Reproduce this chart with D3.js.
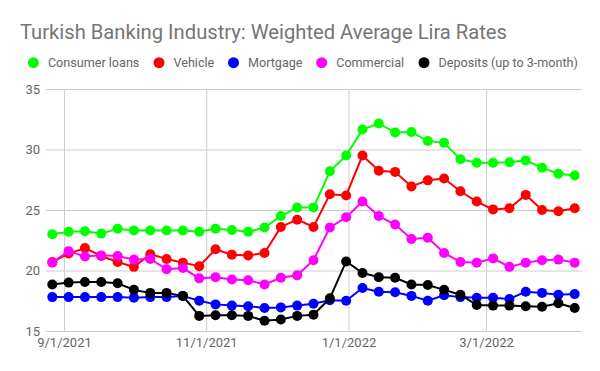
<!DOCTYPE html>
<html>
<head>
<meta charset="utf-8">
<script src="https://cdn.jsdelivr.net/npm/d3@7"></script>
<style>
html,body{margin:0;padding:0;background:#fff;}
svg{display:block;font-family:Roboto,"Noto Sans",sans-serif;}
</style>
</head>
<body>
<svg id="chart" width="600" height="371"></svg>
<script>
const title = "Turkish Banking Industry: Weighted Average Lira Rates";
const startDate = "2021-08-27"; // weekly observations
const seriesNames = ["Consumer loans", "Vehicle", "Mortgage", "Commercial", "Deposits (up to 3-month)"];
const seriesColors = ["#00ff00", "#ff0000", "#0000ff", "#ff00ff", "#000000"];
const consumer = [23.0,23.2,23.25,23.05,23.45,23.3,23.3,23.3,23.3,23.2,23.45,23.35,23.2,23.55,24.5,25.2,25.2,28.2,29.5,31.65,32.15,31.4,31.45,30.7,30.55,29.2,28.9,28.9,28.95,29.1,28.5,28.0,27.85];
const vehicle = [20.7,21.4,21.85,21.2,20.7,20.3,21.35,20.95,20.65,20.35,21.75,21.3,21.25,21.45,23.6,24.2,23.6,26.3,26.2,29.5,28.25,28.15,26.95,27.45,27.6,26.55,25.7,25.05,25.15,26.25,25.0,24.9,25.15];
const mortgage = [17.8,17.8,17.8,17.8,17.8,17.75,17.8,17.8,17.9,17.5,17.2,17.1,17.05,16.9,16.95,17.1,17.25,17.55,17.5,18.55,18.25,18.2,17.9,17.5,17.95,17.8,17.75,17.75,17.65,18.25,18.15,18.0,18.05];
const commercial = [20.65,21.6,21.15,21.25,21.2,20.9,20.95,20.1,20.2,19.35,19.45,19.25,19.2,18.85,19.4,19.6,20.85,23.55,24.4,25.7,24.5,23.8,22.6,22.7,21.45,20.7,20.65,21.0,20.3,20.65,20.85,20.9,20.65];
const deposits = [18.85,19.0,19.05,19.05,18.95,18.4,18.15,18.15,17.9,16.25,16.3,16.3,16.25,15.85,15.95,16.25,16.35,17.7,20.75,19.8,19.45,19.4,18.85,18.8,18.4,18.0,17.15,17.1,17.1,17.05,17.0,17.3,16.9];
const yTicks = [15, 20, 25, 30, 35];
const xTickDates = ["2021-09-01", "2021-11-01", "2022-01-01", "2022-03-01"];
const xTickLabels = ["9/1/2021", "11/1/2021", "1/1/2022", "3/1/2022"];

const allSeries = [consumer, vehicle, mortgage, commercial, deposits];
const t0 = new Date(startDate + "T00:00:00Z");
const dates = consumer.map((_, i) => new Date(t0.getTime() + i * 7 * 86400000));

const svg = d3.select("#chart");
const plotLeft = 46, plotRight = 582;
const x = d3.scaleUtc().domain([dates[0], dates[dates.length - 1]]).range([52.3, 574.7]);
const y = d3.scaleLinear().domain([15, 35]).range([331, 89]);

// title
svg.append("text").attr("x", 20).attr("y", 38.5)
  .attr("font-size", 20.2).attr("fill", "#757575").text(title);

// legend
const legendX = [33.4, 159, 233.5, 321.7, 424];
const lg = svg.append("g");
seriesNames.forEach((n, i) => {
  lg.append("circle").attr("cx", legendX[i]).attr("cy", 62.7).attr("r", 5.5).attr("fill", seriesColors[i]);
  lg.append("text").attr("x", legendX[i] + 14.5).attr("y", 62.7).attr("dy", "0.36em")
    .attr("font-size", 12.6).attr("fill", "#666").text(n);
});

// horizontal grid
const yAxis = d3.axisLeft(y).tickValues(yTicks).tickSize(-(plotRight - plotLeft)).tickPadding(6);
const gy = svg.append("g").attr("transform", `translate(${plotLeft},0)`).call(yAxis);
gy.select(".domain").remove();
gy.selectAll(".tick line").attr("stroke", "#cccccc");
gy.selectAll(".tick text").attr("font-size", 13).attr("fill", "#666").attr("font-family", "Roboto,sans-serif");

// vertical grid + x labels
const xDates = xTickDates.map(d => new Date(d + "T00:00:00Z"));
const xAxis = d3.axisBottom(x).tickValues(xDates).tickSize(-(331 - 89))
  .tickFormat((d, i) => xTickLabels[i]).tickPadding(7);
const gx = svg.append("g").attr("transform", `translate(0,331)`).call(xAxis);
gx.select(".domain").remove();
gx.selectAll(".tick line").attr("stroke", "#cccccc");
gx.selectAll(".tick text").attr("font-size", 13).attr("fill", "#666").attr("font-family", "Roboto,sans-serif");

// series
const line = d3.line().x((d, i) => x(dates[i])).y(d => y(d));
allSeries.forEach((s, k) => {
  const g = svg.append("g");
  g.append("path").datum(s).attr("d", line).attr("fill", "none")
    .attr("stroke", seriesColors[k]).attr("stroke-width", 2);
  g.selectAll("circle").data(s).enter().append("circle")
    .attr("cx", (d, i) => x(dates[i])).attr("cy", d => y(d)).attr("r", 5)
    .attr("fill", seriesColors[k]);
});
</script>
</body>
</html>
